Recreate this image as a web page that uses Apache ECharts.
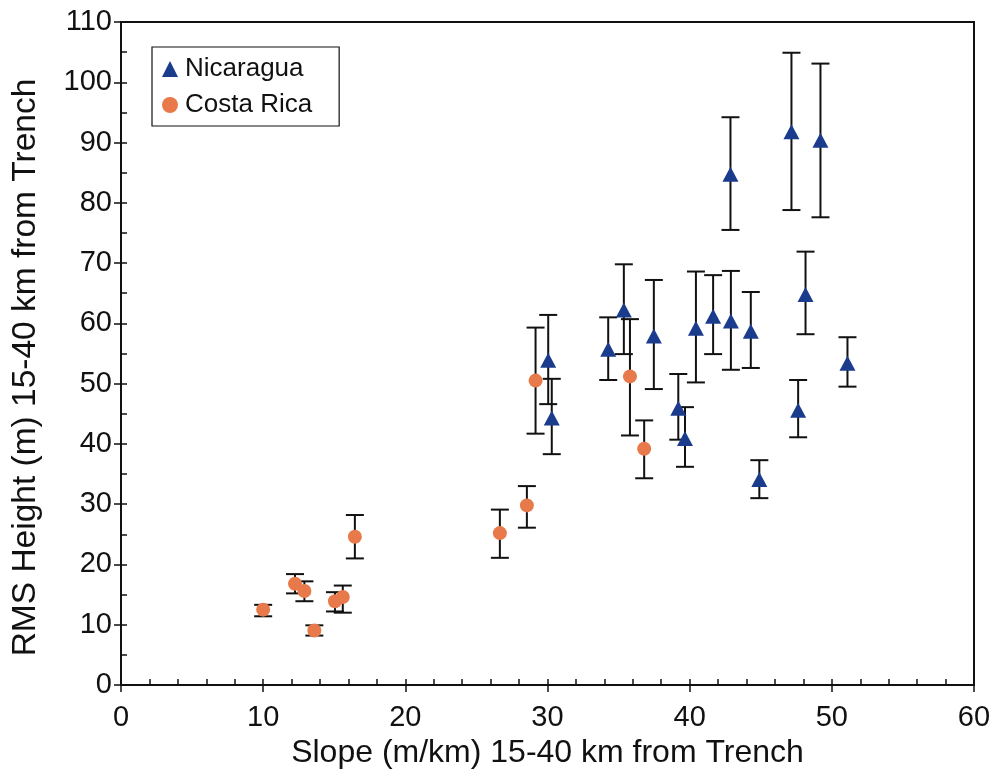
<!DOCTYPE html>
<html>
<head>
<meta charset="utf-8">
<script src="https://cdn.jsdelivr.net/npm/echarts@6/dist/echarts.min.js"></script>
<style>html,body{margin:0;padding:0;background:#fff}#c{width:1002px;height:783px}</style>
</head>
<body>
<div id="c"></div>
<script>
// Nicaragua
const nicX = [30.05, 30.3, 34.27, 35.37, 37.48, 39.2, 39.67, 40.44, 41.65, 42.9, 42.87, 44.3, 44.9, 47.16, 47.63, 48.15, 49.2, 51.1];
const nicY = [53.9, 44.3, 55.7, 62.2, 57.9, 45.9, 40.9, 59.2, 61.2, 60.4, 84.75, 58.7, 34.1, 91.8, 45.6, 64.8, 90.4, 53.4];
const nicLow = [46.6, 38.3, 50.6, 54.9, 49.1, 40.7, 36.2, 50.2, 54.9, 52.3, 75.5, 52.6, 31.0, 78.8, 41.1, 58.2, 77.6, 49.5];
const nicHigh = [61.4, 50.8, 61.0, 69.8, 67.2, 51.6, 46.1, 68.6, 68.0, 68.7, 94.2, 65.2, 37.3, 104.9, 50.6, 71.9, 103.1, 57.7];
// Costa Rica
const crX = [10.0, 12.24, 12.9, 13.6, 15.05, 15.6, 16.45, 26.65, 28.55, 29.16, 35.8, 36.8];
const crY = [12.5, 16.8, 15.6, 9.05, 13.9, 14.6, 24.6, 25.2, 29.8, 50.5, 51.2, 39.2];
const crLow = [11.4, 15.2, 13.9, 8.2, 12.2, 12.0, 21.0, 21.1, 26.1, 41.7, 41.4, 34.3];
const crHigh = [13.3, 18.4, 17.2, 9.9, 15.4, 16.5, 28.2, 29.1, 33.0, 59.3, 60.7, 43.9];

const xTicks = [0, 10, 20, 30, 40, 50, 60];
const yTicks = [0, 10, 20, 30, 40, 50, 60, 70, 80, 90, 100, 110];

const FONT = '"Liberation Sans", Arial, Helvetica, sans-serif';

function errData(xs, lo, hi) { return xs.map((x, i) => [x, lo[i], hi[i]]); }
function ptData(xs, ys) { return xs.map((x, i) => [x, ys[i]]); }

function renderErr(params, api) {
  const x = api.value(0), lo = api.value(1), hi = api.value(2);
  const pHi = api.coord([x, hi]);
  const pLo = api.coord([x, lo]);
  const w = 9;
  const st = { stroke: '#111', lineWidth: 2 };
  return {
    type: 'group',
    children: [
      { type: 'line', shape: { x1: pHi[0], y1: pHi[1], x2: pLo[0], y2: pLo[1] }, style: st },
      { type: 'line', shape: { x1: pHi[0] - w, y1: pHi[1], x2: pHi[0] + w, y2: pHi[1] }, style: st },
      { type: 'line', shape: { x1: pLo[0] - w, y1: pLo[1], x2: pLo[0] + w, y2: pLo[1] }, style: st }
    ]
  };
}

const chart = echarts.init(document.getElementById('c'), null, { renderer: 'canvas' });
const black = '#111';
chart.setOption({
  animation: false,
  backgroundColor: '#fff',
  textStyle: { fontFamily: FONT },
  grid: { left: 121, right: 28, top: 22, bottom: 98, show: true, borderColor: black, borderWidth: 2, backgroundColor: 'transparent' },
  legend: {
    orient: 'vertical', left: 152, top: 47,
    data: ['Nicaragua', 'Costa Rica'],
    borderColor: black, borderWidth: 1.2,
    padding: [9, 27, 8, 10],
    itemWidth: 16, itemHeight: 16, itemGap: 10,
    textStyle: { fontSize: 26, color: black, fontFamily: FONT, padding: [0, 0, 0, 2] }
  },
  xAxis: [
    {
      type: 'value', min: 0, max: 60, interval: 10,
      axisLine: { lineStyle: { color: black, width: 2 } },
      axisTick: { inside: false, length: 7, lineStyle: { color: black, width: 1.5 } },
      axisLabel: { fontSize: 29, color: black, fontFamily: FONT, margin: 18,
        formatter: v => xTicks.includes(v) ? String(v) : '' },
      splitLine: { show: false },
      name: 'Slope (m/km) 15-40 km from Trench', nameLocation: 'middle', nameGap: 50,
      nameTextStyle: { fontSize: 32, color: black, fontFamily: FONT }
    },
    {
      type: 'value', min: 0, max: 60, interval: 2, position: 'bottom',
      axisLine: { show: false },
      axisTick: { inside: true, length: 6, lineStyle: { color: black, width: 1.5 } },
      axisLabel: { show: false }, splitLine: { show: false }
    }
  ],
  yAxis: [
    {
      type: 'value', min: 0, max: 110, interval: 10,
      axisLine: { lineStyle: { color: black, width: 2 } },
      axisTick: { inside: false, length: 7, lineStyle: { color: black, width: 1.5 } },
      axisLabel: { fontSize: 29, color: black, fontFamily: FONT, margin: 9,
        formatter: v => yTicks.includes(v) ? String(v) : '' },
      splitLine: { show: false },
      name: 'RMS Height (m) 15-40 km from Trench', nameLocation: 'middle', nameGap: 78,
      nameTextStyle: { fontSize: 33.5, color: black, fontFamily: FONT, padding: [0, 28, 0, 0] }
    },
    {
      type: 'value', min: 0, max: 110, interval: 5, position: 'left',
      axisLine: { show: false },
      axisTick: { inside: true, length: 6, lineStyle: { color: black, width: 1.5 } },
      axisLabel: { show: false }, splitLine: { show: false }
    }
  ],
  series: [
    { type: 'custom', name: 'errN', renderItem: renderErr, data: errData(nicX, nicLow, nicHigh),
      encode: { x: 0, y: [1, 2] }, z: 2, silent: true },
    { type: 'custom', name: 'errC', renderItem: renderErr, data: errData(crX, crLow, crHigh),
      encode: { x: 0, y: [1, 2] }, z: 2, silent: true },
    { type: 'scatter', name: 'Nicaragua', symbol: 'triangle', symbolSize: [16, 15],
      itemStyle: { color: '#1b3b8c', opacity: 1 }, data: ptData(nicX, nicY), z: 5 },
    { type: 'scatter', name: 'Costa Rica', symbol: 'circle', symbolSize: 14,
      itemStyle: { color: '#e8794b', opacity: 1 }, data: ptData(crX, crY), z: 5 }
  ]
});
</script>
</body>
</html>
